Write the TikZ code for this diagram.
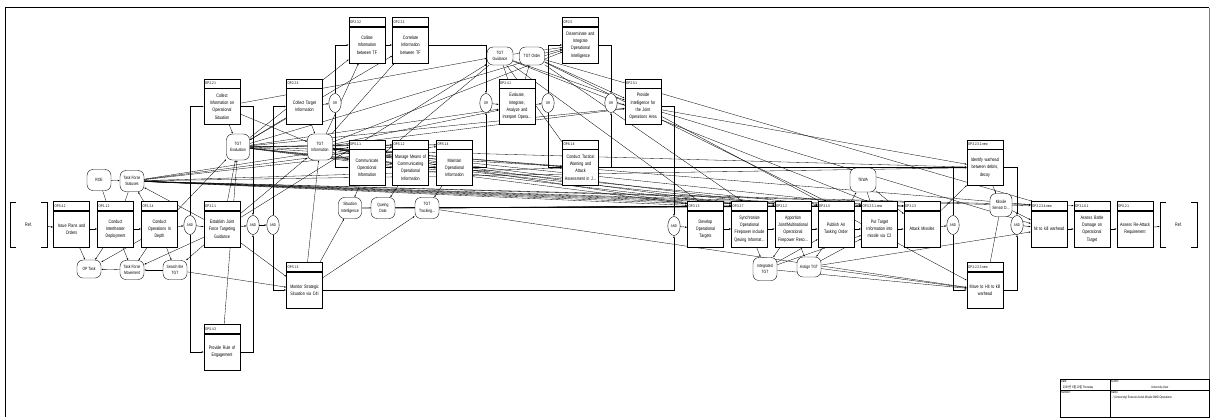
\documentclass[tikz,border=0pt]{standalone}
\usepackage{fontspec}
\setmainfont{Liberation Sans}[FakeStretch=0.75]
\newfontfamily\krfont{Noto Sans CJK KR}[FakeStretch=0.8]
\usetikzlibrary{positioning,shapes.geometric,arrows.meta}
\pgfdeclarelayer{bg}
\pgfsetlayers{bg,main}
\begin{document}
\begin{tikzpicture}[x=0.05cm,y=-0.05cm,
  body/.style={draw,line width=0.55pt,fill=white,minimum width=1.8cm,minimum height=1.8cm,text width=1.7cm,inner sep=0.05cm,align=center,font=\fontsize{7}{10.3}\selectfont},
  head/.style={draw,line width=0.55pt,fill=white,minimum width=1.8cm,minimum height=0.45cm,text width=1.7cm,inner sep=0.05cm,align=left,font=\fontsize{5.5}{6}\selectfont},
  store/.style={draw,line width=0.55pt,fill=white,rounded corners=0.3cm,minimum width=1.2cm,minimum height=1.05cm,inner sep=0.03cm,align=center,font=\fontsize{6.5}{9.5}\selectfont},
  gate/.style={draw,line width=0.55pt,fill=white,ellipse,minimum width=0.62cm,minimum height=0.95cm,inner sep=0pt,font=\fontsize{5.5}{6}\selectfont},
  refbox/.style={minimum width=1.85cm,minimum height=2.25cm,font=\fontsize{7}{10}\selectfont},
  flow/.style={-{Latex[length=3pt,width=2.3pt]},line width=0.55pt},
  info/.style={-{Latex[length=2.8pt,width=2.1pt]},line width=0.45pt},
  cell/.style={inner sep=0.04cm,font=\fontsize{4.8}{5}\selectfont}]
\useasboundingbox (0,0) rectangle (1219,417);
\draw[line width=1pt] (5,417) -- (5,7.5) -- (1209,7.5);
\draw[gray,line width=1.2pt] (1209,7.5) -- (1209,417);

\node[refbox] (refL) at (28.5,224.5) {Ref.};
\draw[line width=0.55pt] ([xshift=0.3cm]refL.north west) -- (refL.north west) -- (refL.south west) -- ([xshift=0.3cm]refL.south west);
\draw[line width=0.55pt] ([xshift=-0.3cm]refL.north east) -- (refL.north east) -- (refL.south east) -- ([xshift=-0.3cm]refL.south east);
\node[refbox] (refR) at (1178.5,224.5) {Ref.};
\draw[line width=0.55pt] ([xshift=0.3cm]refR.north west) -- (refR.north west) -- (refR.south west) -- ([xshift=0.3cm]refR.south west);
\draw[line width=0.55pt] ([xshift=-0.3cm]refR.north east) -- (refR.north east) -- (refR.south east) -- ([xshift=-0.3cm]refR.south east);

\node[body] (p542) at (71.5,229) {Issue Plans and\\Orders};
\node[head,above=0pt of p542] (p542h) {OP.5.4.2};
\node[body] (p112) at (115.5,229) {Conduct\\Intertheater\\Deployment};
\node[head,above=0pt of p112] (p112h) {OP.1.1.2};
\node[body] (p124) at (159.5,229) {Conduct\\Operations In\\Depth};
\node[head,above=0pt of p124] (p124h) {OP.1.2.4};
\node[body] (p311) at (222,229) {Establish Joint\\Force Targeting\\Guidance};
\node[head,above=0pt of p311] (p311h) {OP.3.1.1};
\node[body] (p221) at (222,106.5) {Collect\\Information on\\Operational\\Situation};
\node[head,above=0pt of p221] (p221h) {OP.2.2.1};
\node[body] (p543) at (222,352) {Provide Rule of\\Engagement};
\node[head,above=0pt of p543] (p543h) {OP.5.4.3};
\node[body] (p225) at (304.5,106.5) {Collect Target\\Information};
\node[head,above=0pt of p225] (p225h) {OP.2.2.5};
\node[body] (p515) at (304.5,290) {Monitor Strategic\\Situation via C4I};
\node[head,above=0pt of p515] (p515h) {OP.5.1.5};
\node[body] (p232) at (367,45) {Collate\\Information\\between TF};
\node[head,above=0pt of p232] (p232h) {OP.2.3.2};
\node[body] (p233) at (410.5,45) {Correlate\\Information\\between TF};
\node[head,above=0pt of p233] (p233h) {OP.2.3.3};
\node[body] (p511) at (367,167.5) {Communicate\\Operational\\Information};
\node[head,above=0pt of p511] (p511h) {OP.5.1.1};
\node[body] (p512) at (410.5,167.5) {Manage Means of\\Communicating\\Operational\\Information};
\node[head,above=0pt of p512] (p512h) {OP.5.1.2};
\node[body] (p514) at (454.5,167.5) {Maintain\\Operational\\Information};
\node[head,above=0pt of p514] (p514h) {OP.5.1.4};
\node[body] (p241) at (517,106.5) {Evaluate,\\Integrate,\\Analyze and\\Interpret Opera...};
\node[head,above=0pt of p241] (p241h) {OP.2.4.1};
\node[body] (p25) at (580.5,45) {Disseminate and\\Integrate\\Operational\\Intelligence};
\node[head,above=0pt of p25] (p25h) {OP.2.5};
\node[body] (p616) at (580.5,167.5) {Conduct Tactical\\Warning and\\Attack\\Assessment in J...};
\node[head,above=0pt of p616] (p616h) {OP.6.1.6};
\node[body] (p251) at (643,106.5) {Provide\\Intelligence for\\the Joint\\Operations Area};
\node[head,above=0pt of p251] (p251h) {OP.2.5.1};
\node[body] (p313) at (705.5,229) {Develop\\Operational\\Targets};
\node[head,above=0pt of p313] (p313h) {OP.3.1.3};
\node[body] (p327) at (749.5,229) {Synchronize\\Operational\\Firepower include\\Qeuing Informat...};
\node[head,above=0pt of p327] (p327h) {OP.3.2.7};
\node[body] (p312) at (793,229) {Apportion\\Joint/Multinational\\Operational\\Firepower Reso...};
\node[head,above=0pt of p312] (p312h) {OP.3.1.2};
\node[body] (p315) at (836,229) {Publish Air\\Tasking Order};
\node[head,above=0pt of p315] (p315h) {OP.3.1.5};
\node[body] (p3231) at (879.5,229) {Put Target\\Information into\\missile via C2};
\node[head,above=0pt of p3231] (p3231h) {OP.3.2.3.1.new};
\node[body] (p323) at (922,229) {Attack Missiles};
\node[head,above=0pt of p323] (p323h) {OP.3.2.3};
\node[body] (p3232) at (985,167.5) {Identify warhead\\between debris,\\decoy};
\node[head,above=0pt of p3232] (p3232h) {OP.3.2.3.2.new};
\node[body] (p3233) at (985,290) {Move to Hit to kill\\warhead};
\node[head,above=0pt of p3233] (p3233h) {OP.3.2.3.3.new};
\node[body] (p3234) at (1049,229) {hit to kill warhead};
\node[head,above=0pt of p3234] (p3234h) {OP.3.2.3.4.new};
\node[body] (p3161) at (1092,229) {Assess Battle\\Damage on\\Operational\\Target};
\node[head,above=0pt of p3161] (p3161h) {OP.3.1.6.1};
\node[body] (p521) at (1135,229) {Assess Re-Attack\\Requirement};
\node[head,above=0pt of p521] (p521h) {OP.5.2.1};

\node[gate] (and1) at (190,225) {AND};
\node[gate] (and2) at (253,225) {AND};
\node[gate] (and3) at (273,225) {AND};
\node[gate] (or1) at (335,103) {OR};
\node[gate] (or2) at (486,103) {OR};
\node[gate] (or3) at (548,103) {OR};
\node[gate] (or4) at (611,103) {OR};
\node[gate] (and4) at (674,226) {AND};
\node[gate] (and5) at (953,225) {AND};
\node[gate] (and6) at (1017,225) {AND};

\node[store] (roe) at (99,180) {ROE};
\node[store] (tfs) at (132,181) {Task Force\\Statuses};
\node[store,minimum height=0.9cm] (optask) at (89,269) {OP Task};
\node[store,minimum height=0.95cm] (tfm) at (132,270) {Task Force\\Movement};
\node[store,minimum height=0.95cm] (search) at (175,270) {Search the\\TGT};
\node[store,minimum height=1.3cm,minimum width=1.15cm] (tgteval) at (238,147) {TGT\\Evaluation};
\node[store,minimum height=1.3cm,minimum width=1.25cm] (tgtinfo) at (320,147) {TGT\\Information};
\node[store,minimum width=1.15cm] (sitint) at (350,208) {Situation\\Intelligence};
\node[store] (queing) at (383,208) {Queing\\Data};
\node[store] (tgttrack) at (427,208) {TGT\\Tracking...};
\node[store,minimum height=0.9cm,minimum width=1.3cm] (tgtguid) at (500,56) {TGT\\Guidance};
\node[store,minimum height=0.9cm,minimum width=1.25cm] (tgtorder) at (532,56) {TGT Order};
\node[store,minimum width=1.3cm,minimum height=1.2cm] (tewa) at (863,180) {TEWA};
\node[store,minimum width=1.1cm,minimum height=1.15cm] (msd) at (1001,205) {Missile\\Sensor D...};
\node[store,minimum height=1.15cm] (inttgt) at (765,269) {Integrated\\TGT};
\node[store,minimum height=1cm] (assign) at (809,267) {Assign TGT};

\draw[flow] (refL) -- (p542);
\draw[flow] (p542) -- (p112);
\draw[flow] (p112) -- (p124);
\draw[flow] (p124) -- (and1);
\draw[flow] (and1) -- (p311);
\draw[flow] (and1) |- (p221);
\draw[flow] (and1) |- (p543);
\draw[flow] (p311) -- (and2);
\draw[flow] (p221) -| (and2);
\draw[flow] (p543) -| (and2);
\draw[flow] (and2) -- (and3);
\draw[flow] (and3) |- (p225);
\draw[flow] (and3) |- (p515);
\draw[flow] (p225) -- (or1);
\draw[flow] (or1) |- (p232);
\draw[flow] (or1) |- (p511);
\draw[flow] (p232) -- (p233);
\draw[flow] (p511) -- (p512);
\draw[flow] (p512) -- (p514);
\draw[flow] (p233) -| (or2);
\draw[flow] (p514) -| (or2);
\draw[flow] (or2) -- (p241);
\draw[flow] (p241) -- (or3);
\draw[flow] (or3) |- (p25);
\draw[flow] (or3) |- (p616);
\draw[flow] (p25) -| (or4);
\draw[flow] (p616) -| (or4);
\draw[flow] (or4) -- (p251);
\draw[flow] (p251) -| (and4);
\draw[flow] (p515) -| (and4);
\draw[flow] (and4) -- (p313);
\draw[flow] (p313) -- (p327);
\draw[flow] (p327) -- (p312);
\draw[flow] (p312) -- (p315);
\draw[flow] (p315) -- (p3231);
\draw[flow] (p3231) -- (p323);
\draw[flow] (p323) -- (and5);
\draw[flow] (and5) |- (p3232);
\draw[flow] (and5) |- (p3233);
\draw[flow] (p3232) -| (and6);
\draw[flow] (p3233) -| (and6);
\draw[flow] (and6) -- (p3234);
\draw[flow] (p3234) -- (p3161);
\draw[flow] (p3161) -- (p521);
\draw[flow] (p521) -- (refR);

\begin{pgfonlayer}{bg}
\foreach \t in {p511h,p512h,p514h,p616,p313h,p327h,p312h,p315h,p3231h,p323h,p3234h,p3161h,p3232}
  \draw[info] (tfs) -- (\t);
\foreach \t in {p511h,p512h,p514h,p616,p313h,p327h,p312h,p315h,p232,p233,p241,p25,p251,p3232}
  \draw[info] (tgteval) -- (\t);
\foreach \t in {p511,p512,p514,p232,p233,p241,p25,p251,p616,p313h,p327h,p312h,p3231h,p3234h}
  \draw[info] (tgtinfo) -- (\t);
\foreach \s in {p221,p225,p311,p124,p543}
  \draw[info] (\s) -- (tgteval);
\foreach \s in {p225,p221,p311,p515}
  \draw[info] (\s) -- (tgtinfo);
\draw[info] (roe) -- (tfs);
\draw[info] (roe) -- (p112);
\draw[info] (tfs) -- (p112);
\draw[info] (p124) -- (tfs);
\draw[info] (p311) -- (tfs);
\foreach \s in {p542,p112,p124,tfm}
  \draw[info] (\s) -- (optask);
\foreach \s in {p112,p124,p311,search}
  \draw[info] (\s) -- (tfm);
\draw[info] (p311) -- (search);
\draw[info] (p124) -- (search);
\draw[info] (search) -- (p515);
\draw[info] (p311) -- (p515);
\draw[info] (p515) -- (sitint);
\draw[info] (p515) -- (tgttrack);
\draw[info] (p511) -- (sitint);
\draw[info] (p512) -- (queing);
\draw[info] (p514) -- (tgttrack);
\foreach \t in {p313h,p327h,p315h}
  \draw[info] (sitint) -- (\t);
\foreach \t in {p327h,p312h,p3231h}
  \draw[info] (queing) -- (\t);
\foreach \t in {p313h,p315h,p3231h,p323h,p3233}
  \draw[info] (tgttrack) -- (\t);
\draw[info] (p221) -- (tgtguid);
\draw[info] (p311) -- (tgtguid);
\foreach \t in {p241,p251,p25,p511,p616,p313h,p3231h}
  \draw[info] (tgtguid) -- (\t);
\draw[info] (p241) -- (tgtorder);
\foreach \t in {p25,p251,p327h,p315h,p3234h}
  \draw[info] (tgtorder) -- (\t);
\foreach \t in {p3232,p3233,p3234}
  \draw[info] (p251) -- (\t);
\draw[info] (p616) -- (p3232);
\draw[info] (p315) -- (tewa);
\draw[info] (tewa) -- (p3231);
\draw[info] (tewa) -- (p323);
\draw[info] (p323) -- (p3232);
\draw[info] (p3232) -- (msd);
\draw[info] (msd) -- (p3233);
\draw[info] (msd) -- (p3234);
\foreach \s in {p327,p312}
  \draw[info] (\s) -- (inttgt);
\foreach \t in {p315,p3231,p3233}
  \draw[info] (inttgt) -- (\t);
\foreach \s in {p312,p315}
  \draw[info] (\s) -- (assign);
\foreach \t in {p3231,p3233,p3234}
  \draw[info] (assign) -- (\t);
\end{pgfonlayer}

\draw[fill=white] (1060,379) rectangle (1209,417);
\draw[line width=0.8pt] (1060,379) -- (1209,379);
\draw[line width=0.8pt] (1060,390) -- (1209,390);
\draw (1110,379) -- (1110,417);
\node[cell,anchor=north west] (dateL) at (1060,379) {Date:};
\node[cell,anchor=south west] (dateV) at (1062,390) {\krfont 2009년 6월 10일 \rmfamily Thursday};
\node[cell,anchor=north west] (authL) at (1110,379) {Author:};
\node[cell,anchor=south] (authV) at (1160,390) {University User};
\node[cell,anchor=north west] (numL) at (1060,390) {Number:};
\node[cell,anchor=north west] (nameL) at (1110,390) {Name:};
\begin{scope}
\clip (1110,390) rectangle (1208,417);
\node[cell,anchor=north west] (nameV) at (1112,395) {/ (University) Execute Aerial Missile BMD Operations};
\end{scope}
\end{tikzpicture}
\end{document}
